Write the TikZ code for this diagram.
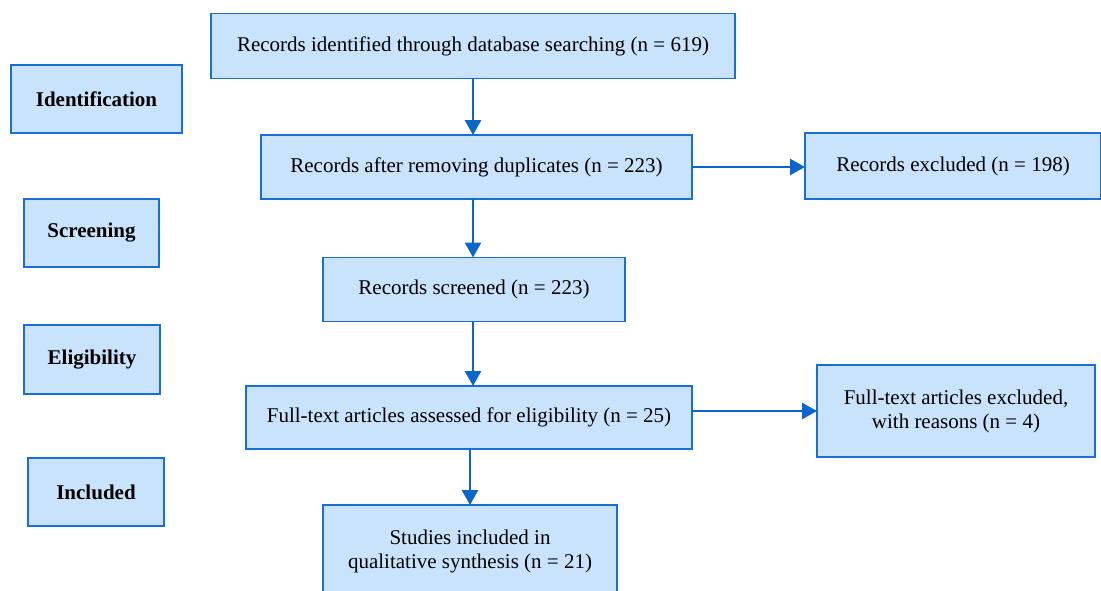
\documentclass[tikz,border=0pt]{standalone}
\usepackage{fontspec}
\setmainfont{Liberation Serif}
\usetikzlibrary{arrows.meta}
\definecolor{boxfill}{HTML}{C9E3FD}
\definecolor{boxline}{HTML}{1A6FD6}
\definecolor{arrcol}{HTML}{0B66CC}
\begin{document}
\begin{tikzpicture}[x=1pt,y=-1pt,
  box/.style={draw=boxline, fill=boxfill, line width=1.8pt, inner sep=2pt, outer sep=0pt, align=center, font=\fontsize{21}{24}\selectfont},
  stage/.style={box, font=\fontsize{21}{24}\selectfont\bfseries},
  arr/.style={draw=arrcol, line width=2.8pt, -{Triangle[length=15pt,width=16pt]}}]
\useasboundingbox (0,0) rectangle (1101,590);
\clip (0,0) rectangle (1101,590);
% stage labels
\node[stage, minimum width=171, minimum height=68] (ident) at (96.5,99) {Identification};
\node[stage, minimum width=135, minimum height=68] (screen) at (91.5,233) {Screening};
\node[stage, minimum width=136, minimum height=69] (elig) at (92,359.5) {Eligibility};
\node[stage, minimum width=136, minimum height=68] (incl) at (96,492) {Included};
% flow boxes
\node[box, minimum width=524, minimum height=65] (top) at (473,46) {Records identified through database searching (n = 619)};
\node[box, minimum width=431, minimum height=64] (dup) at (476.5,167) {Records after removing duplicates (n = 223)};
\node[box, minimum width=296, minimum height=66] (excl1) at (953,166) {Records excluded (n = 198)};
\node[box, minimum width=302, minimum height=64] (screened) at (474,289.5) {Records screened (n = 223)};
\node[box, minimum width=446, minimum height=63] (full) at (469,417.5) {Full-text articles assessed for eligibility (n = 25)};
\node[box, minimum width=278, minimum height=92] (excl2) at (956,411) {Full-text articles excluded,\\with reasons (n = 4)};
\node[box, minimum width=294, minimum height=100, anchor=north] (studies) at (470,505) {};
\node[font=\fontsize{21}{24}\selectfont, align=center] (studiestext) at (470,551) {Studies included in\\qualitative synthesis (n = 21)};
% connectors
\draw[arr] (top.south) -- (top.south |- dup.north);
\draw[arr] (dup.east) -- (dup.east -| excl1.west);
\draw[arr] (top.south |- dup.south) -- (top.south |- screened.north);
\draw[arr] (top.south |- screened.south) -- (top.south |- full.north);
\draw[arr] (full.east |- excl2.west) -- (excl2.west);
\draw[arr] (studies.north |- full.south) -- (studies.north);
\end{tikzpicture}
\end{document}
